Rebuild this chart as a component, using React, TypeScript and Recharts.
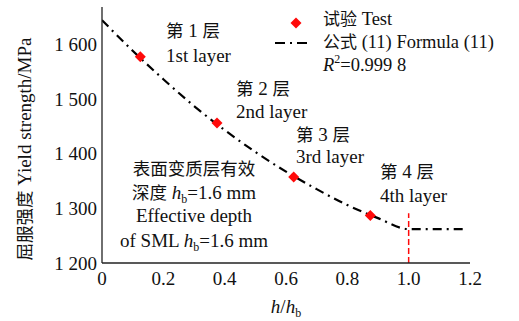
import React from 'react';
import { ComposedChart, Line, Scatter, XAxis, YAxis, ReferenceLine } from 'recharts';

// Test data: relative depth h/hb and yield strength (MPa)
const testDepth = [0.125, 0.375, 0.625, 0.875];
const testStrength = [1577, 1456, 1357, 1287];

// Formula (11) curve
const fitDepth = [0, 0.1, 0.2, 0.3, 0.4, 0.5, 0.6, 0.7, 0.8, 0.9, 1.0, 1.18];
const fitStrength = [1644, 1588, 1536, 1487, 1443, 1403, 1367, 1335, 1306, 1282, 1262, 1262];

// Boundary marker
const boundaryDepth = 1.0;
const boundaryStrength = [1200, 1291];

const xTicks = [0, 0.2, 0.4, 0.6, 0.8, 1.0, 1.2];
const xTickLabels = ['0', '0.2', '0.4', '0.6', '0.8', '1.0', '1.2'];
const yTicks = [1200, 1300, 1400, 1500, 1600];
const yTickLabels = ['1 200', '1 300', '1 400', '1 500', '1 600'];
const yMinorTicks = [1250, 1350, 1450, 1550, 1650];
const yDomain = [1200, 1668];
const xDomain = [0, 1.2];

const testData = testDepth.map((x, i) => ({ x, y: testStrength[i] }));
const fitData = fitDepth.map((x, i) => ({ x, y: fitStrength[i] }));

const FONT = '"Liberation Serif", "Times New Roman", "Noto Sans CJK SC", serif';
const CJK = '"Noto Sans CJK SC", sans-serif';
const TXT = '#111';
const RED = '#ff0a0a';

const Diamond = (props: any) => {
  const { cx, cy } = props;
  const r = 5.5;
  return (
    <polygon
      points={`${cx},${cy - r} ${cx + r},${cy} ${cx},${cy + r} ${cx - r},${cy}`}
      fill={RED}
    />
  );
};

const fmtX = (v: number) => xTickLabels[xTicks.indexOf(v)] ?? String(v);
const fmtY = (v: number) => yTickLabels[yTicks.indexOf(v)] ?? String(v);

const cn = (s: string, fs = 17.5) => <tspan fontFamily={CJK} fontSize={fs}>{s}</tspan>;

export default function App() {
  const tickStyle = { fontFamily: FONT, fontSize: 19, fill: TXT };
  return (
    <div style={{ position: 'absolute', left: 0, top: 0, width: 519, height: 321, background: '#fff' }}>
      <ComposedChart width={519} height={321} margin={{ top: 7, right: 49, bottom: 28, left: 42 }}>
        <XAxis
          type="number"
          dataKey="x"
          domain={xDomain}
          ticks={xTicks}
          tickFormatter={fmtX}
          allowDataOverflow
          height={30}
          tickLine={false}
          tickSize={0}
          tickMargin={9}
          tick={tickStyle}
          axisLine={{ stroke: '#222', strokeWidth: 1.3 }}
        />
        <XAxis
          xAxisId="xt"
          type="number"
          dataKey="x"
          domain={xDomain}
          ticks={xTicks}
          allowDataOverflow
          mirror
          tick={false}
          axisLine={false}
          tickSize={5}
          tickLine={{ stroke: '#222', strokeWidth: 1.3 }}
        />
        <YAxis
          type="number"
          domain={yDomain}
          ticks={yTicks}
          tickFormatter={fmtY}
          allowDataOverflow
          width={60}
          tickLine={false}
          tickSize={0}
          tickMargin={5}
          tick={tickStyle}
          axisLine={{ stroke: '#222', strokeWidth: 1.3 }}
        />
        <YAxis
          yAxisId="yt"
          type="number"
          domain={yDomain}
          ticks={yTicks}
          allowDataOverflow
          mirror
          tick={false}
          axisLine={false}
          tickSize={5}
          tickLine={{ stroke: '#222', strokeWidth: 1.3 }}
        />
        <YAxis
          yAxisId="ym"
          type="number"
          domain={yDomain}
          ticks={yMinorTicks}
          allowDataOverflow
          mirror
          tick={false}
          axisLine={false}
          tickSize={3}
          tickLine={{ stroke: '#222', strokeWidth: 1.3 }}
        />
        <ReferenceLine
          segment={[
            { x: boundaryDepth, y: boundaryStrength[0] },
            { x: boundaryDepth, y: boundaryStrength[1] },
          ]}
          stroke={RED}
          strokeWidth={1.5}
          strokeDasharray="6 3"
        />
        <Line
          data={fitData}
          dataKey="y"
          type="monotone"
          stroke="#000"
          strokeWidth={2.2}
          strokeDasharray="9 5 2 5"
          dot={false}
          activeDot={false}
          isAnimationActive={false}
        />
        <Scatter data={testData} dataKey="y" shape={<Diamond />} isAnimationActive={false} />
      </ComposedChart>
      <svg
        width={519}
        height={321}
        style={{ position: 'absolute', left: 0, top: 0, pointerEvents: 'none' }}
        fontFamily={FONT}
        fontSize={19}
        fill={TXT}
      >
        {/* legend */}
        <polygon points="296,17.5 301.5,23 296,28.5 290.5,23" fill={RED} />
        <text x={323} y={25} fontSize={18.5}>{cn('试验', 17)} Test</text>
        <line x1={275} y1={43} x2={312} y2={43} stroke="#000" strokeWidth={2.2} strokeDasharray="10 5 2 5" />
        <text x={323} y={48} fontSize={18.5}>{cn('公式', 17)} (11) Formula (11)</text>
        <text x={323} y={71} fontSize={18.5}><tspan fontStyle="italic">R</tspan><tspan fontSize={12} dy={-8}>2</tspan><tspan dy={8}>=0.999 8</tspan></text>
        {/* layer notes */}
        <text x={166} y={37}>{cn('第')} 1 {cn('层')}</text>
        <text x={166} y={62}>1st layer</text>
        <text x={236} y={95}>{cn('第')} 2 {cn('层')}</text>
        <text x={236} y={118}>2nd layer</text>
        <text x={296} y={141}>{cn('第')} 3 {cn('层')}</text>
        <text x={296} y={163}>3rd layer</text>
        <text x={380} y={178}>{cn('第')} 4 {cn('层')}</text>
        <text x={380} y={202}>4th layer</text>
        <text x={194} y={175} textAnchor="middle">{cn('表面变质层有效')}</text>
        <text x={194} y={199} textAnchor="middle">{cn('深度')} <tspan fontStyle="italic">h</tspan><tspan fontSize={12} dy={4}>b</tspan><tspan dy={-4}>=1.6 mm</tspan></text>
        <text x={194} y={222} textAnchor="middle">Effective depth</text>
        <text x={194} y={247} textAnchor="middle">of SML <tspan fontStyle="italic">h</tspan><tspan fontSize={12} dy={4}>b</tspan><tspan dy={-4}>=1.6 mm</tspan></text>
        {/* axis titles */}
        <text x={286} y={313} textAnchor="middle"><tspan fontStyle="italic">h</tspan>/<tspan fontStyle="italic">h</tspan><tspan fontSize={12} dy={4}>b</tspan></text>
        <text x={31} y={149} textAnchor="middle" transform="rotate(-90 31 149)">{cn('屈服强度')} Yield strength/MPa</text>
      </svg>
    </div>
  );
}
